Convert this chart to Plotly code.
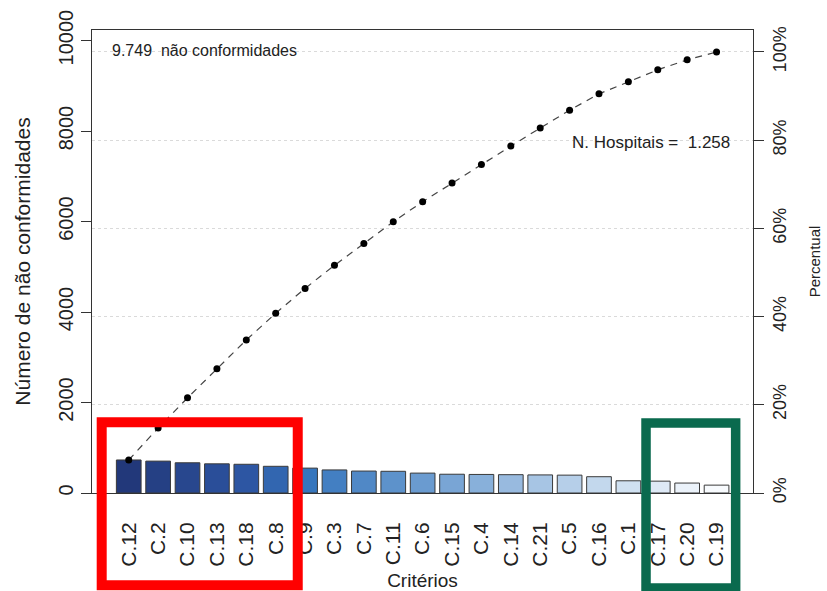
import plotly.graph_objects as go
from plotly.colors import sample_colorscale

# Non-conformities per criterion, sorted in decreasing order (Pareto)
criterios = ["C.12", "C.2", "C.10", "C.13", "C.18", "C.8", "C.9", "C.3", "C.7",
             "C.11", "C.6", "C.15", "C.4", "C.14", "C.21", "C.5", "C.16", "C.1",
             "C.17", "C.20", "C.19"]
nao_conformidades = [730, 705, 668, 645, 635, 590, 550, 510, 485, 480, 440, 415,
                     410, 405, 400, 395, 360, 270, 262, 220, 174]
n_hospitais = 1258
left_ticks = [0, 2000, 4000, 6000, 8000, 10000]
pct_ticks = [0, 20, 40, 60, 80, 100]

total = sum(nao_conformidades)
cumulative = []
acc = 0
for v in nao_conformidades:
    acc += v
    cumulative.append(acc)
cum_pct = [c / total * 100 for c in cumulative]

idx = list(range(len(criterios)))

def br(n):
    return f"{n:,}".replace(",", ".")

# Blue ramp from dark navy down to almost white
blues = [[0.0, "#22387a"], [0.2, "#2d56a3"], [0.3, "#3676bd"], [0.5, "#6a9bd0"],
         [0.75, "#b6cfe9"], [1.0, "#f8fbfe"]]
bar_colors = sample_colorscale(blues, [i / (len(criterios) - 1) for i in idx])

FONT = "Liberation Sans, Arial, sans-serif"
INK = "#222222"

y_top = 10235
fig = go.Figure()
fig.add_trace(go.Bar(
    x=idx, y=nao_conformidades, marker=dict(color=bar_colors,
                                            line=dict(color="#3a3a3a", width=1)),
    width=0.84, yaxis="y", showlegend=False))
fig.add_trace(go.Scatter(
    x=idx, y=cum_pct, yaxis="y2", mode="lines+markers",
    line=dict(color="#444444", width=1.2, dash="7px,6px"),
    marker=dict(color="black", size=7), showlegend=False))

axis_common = dict(showline=True, linecolor="#333333", linewidth=1,
                   ticks="outside", ticklen=10, tickcolor="#333333",
                   zeroline=False, automargin=False)

fig.update_layout(
    width=827, height=591,
    margin=dict(l=92, r=74, t=30, b=98),
    plot_bgcolor="white", paper_bgcolor="white",
    xaxis=dict(range=[-1.25, len(criterios) - 1 + 1.24], tickmode="array",
               tickvals=idx, ticktext=criterios, tickangle=-90,
               showline=True, mirror=True, linecolor="#333333", linewidth=1,
               ticks="outside", ticklen=20, tickcolor="rgba(0,0,0,0)",
               tickfont=dict(family=FONT, size=21, color=INK),
               showgrid=False, zeroline=False, automargin=False,
               title=dict(text="Critérios", standoff=8,
                          font=dict(family=FONT, size=19, color=INK))),
    yaxis=dict(range=[0, y_top], tickmode="array", tickvals=left_ticks,
               ticktext=[str(t) for t in left_ticks], tickangle=-90,
               tickfont=dict(family=FONT, size=20, color=INK),
               showgrid=False, mirror=True,
               title=dict(text="Número de não conformidades", standoff=18,
                          font=dict(family=FONT, size=21, color=INK)),
               **axis_common),
    yaxis2=dict(range=[0, y_top / total * 100], tickmode="array",
                tickvals=pct_ticks, ticktext=[f"{t}%" for t in pct_ticks],
                tickangle=-90, overlaying="y", side="right",
                tickfont=dict(family=FONT, size=18, color=INK),
                showgrid=True, gridcolor="#dadada", griddash="dot", gridwidth=1,
                title=dict(text="Percentual", standoff=20,
                           font=dict(family=FONT, size=15, color=INK)),
                **axis_common),
)

fig.add_annotation(xref="paper", yref="paper", x=0.027, y=0.955,
                   xanchor="left", yanchor="middle", showarrow=False,
                   text=f"{br(total)}  não conformidades",
                   font=dict(family=FONT, size=16, color=INK))
fig.add_annotation(xref="paper", yref="paper", x=0.968, y=0.758,
                   xanchor="right", yanchor="middle", showarrow=False,
                   text=f"N. Hospitais =  {br(n_hospitais)}",
                   font=dict(family=FONT, size=17, color=INK))

# Highlight boxes: most frequent and least frequent criteria
fig.add_shape(type="rect", xref="x", yref="paper", x0=-0.92, x1=5.75,
              y0=-0.199, y1=0.153, line=dict(color="#ff0000", width=10),
              fillcolor="rgba(0,0,0,0)", layer="above")
fig.add_shape(type="rect", xref="x", yref="paper", x0=17.6, x1=20.65,
              y0=-0.205, y1=0.151, line=dict(color="#0a6a4e", width=9.5),
              fillcolor="rgba(0,0,0,0)", layer="above")

fig.write_html("out.html")
